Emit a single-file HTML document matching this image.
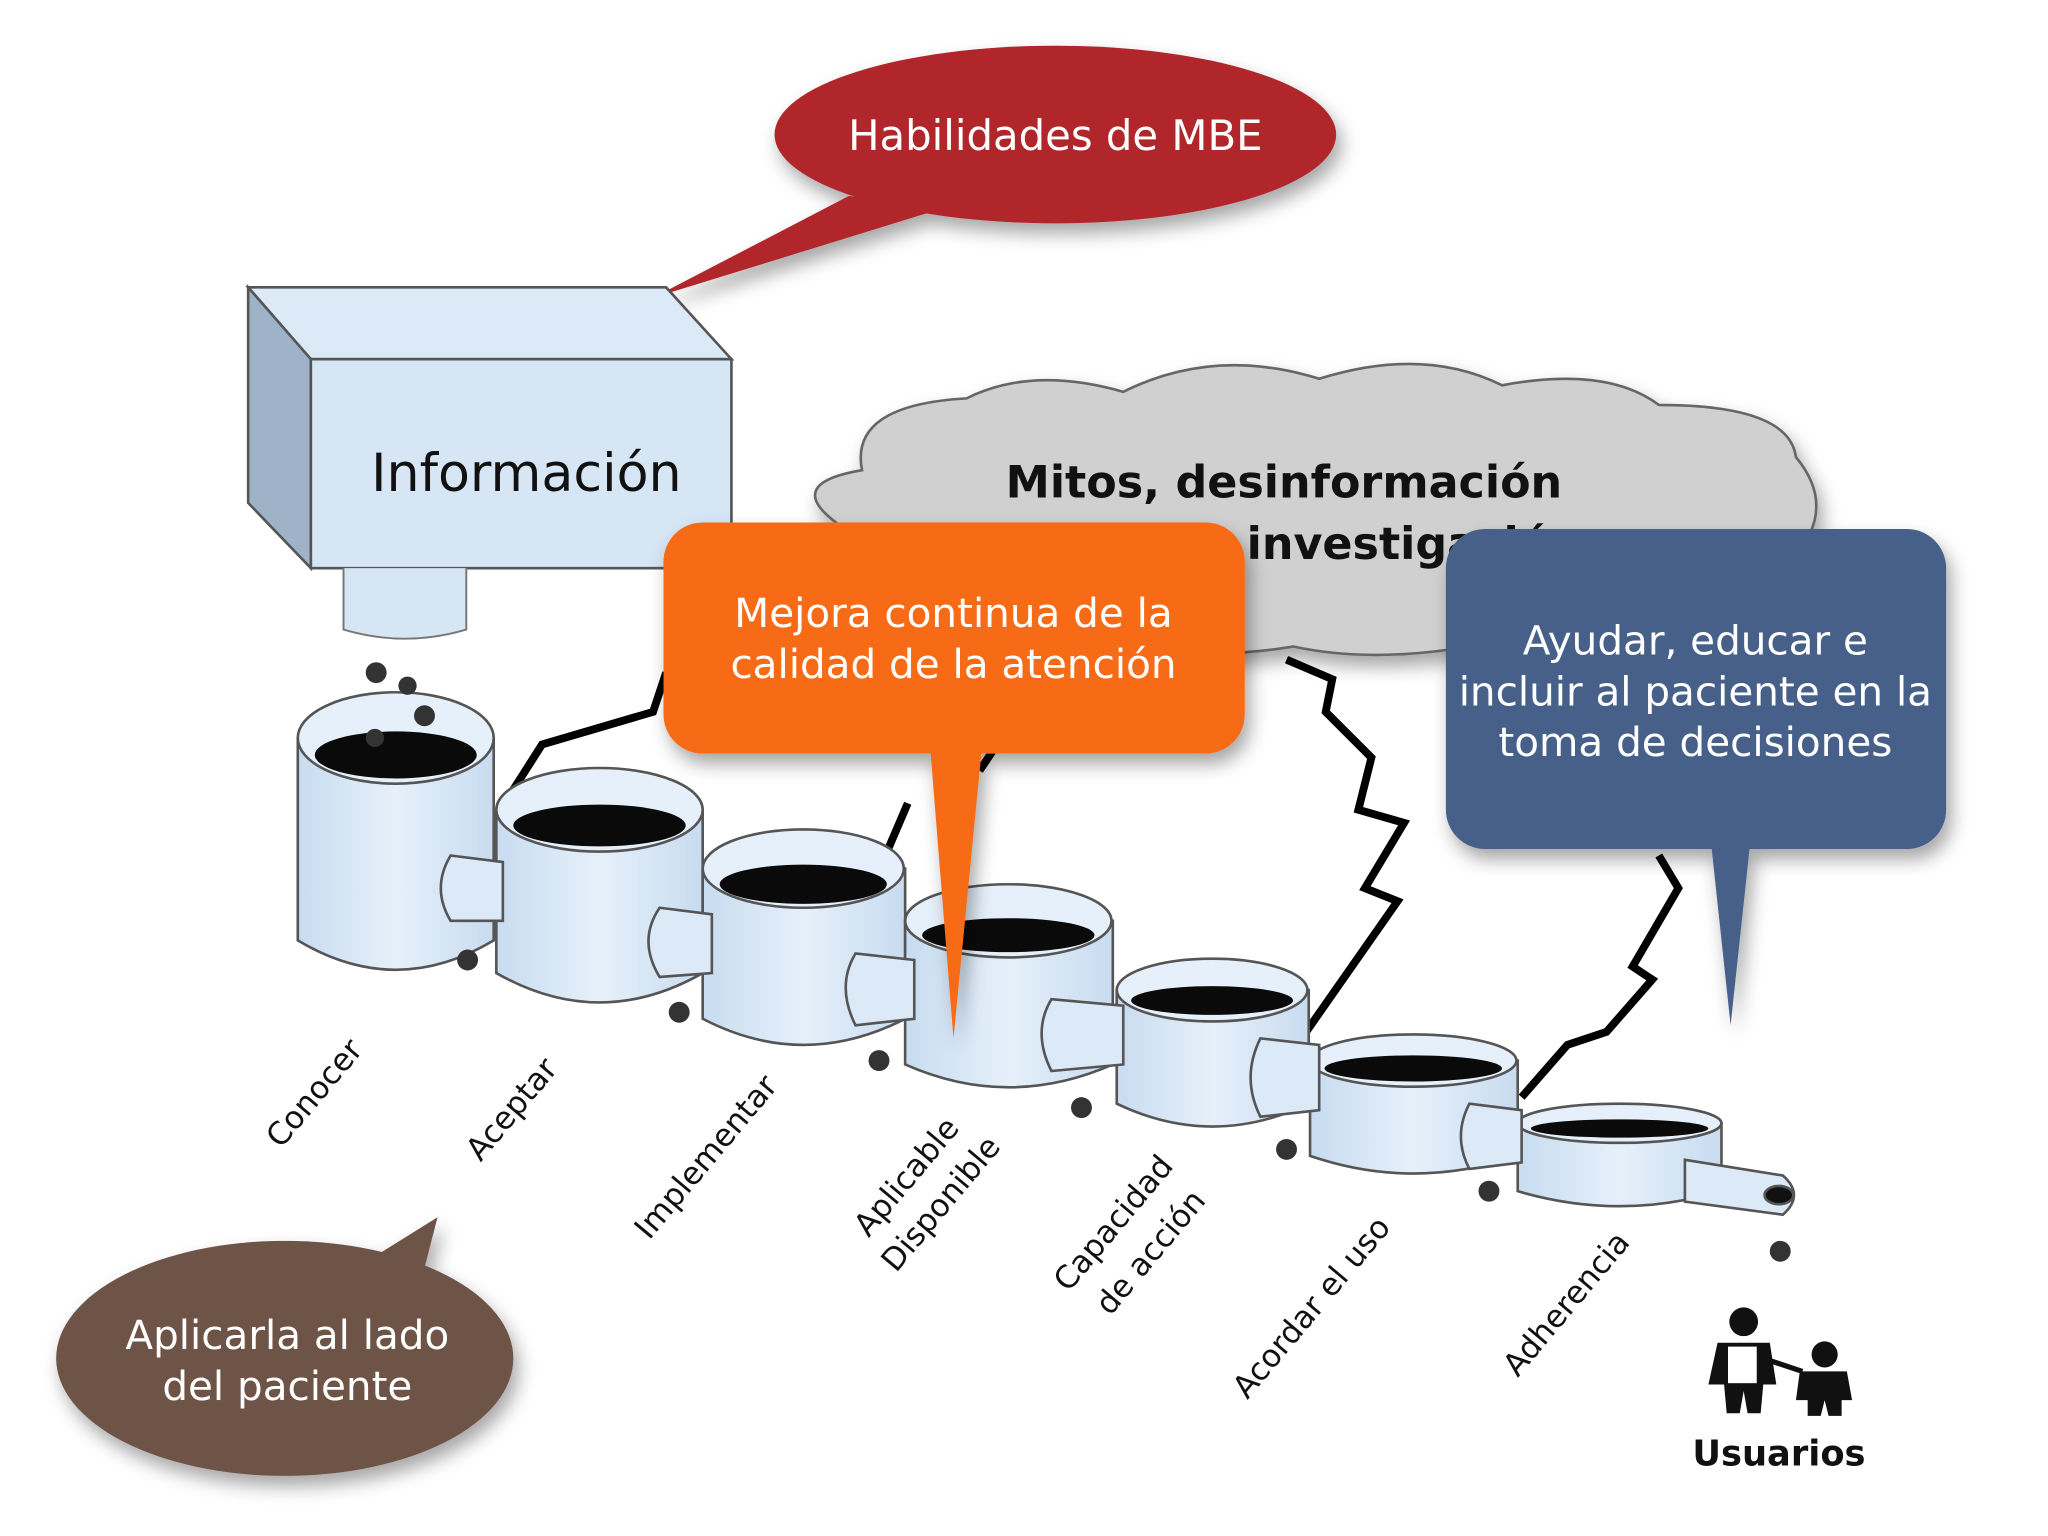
<!DOCTYPE html>
<html><head><meta charset="utf-8"><style>
html,body{margin:0;padding:0;background:#fff;}
svg{display:block}
.t{font-family:"DejaVu Sans","Liberation Sans",sans-serif;}
</style></head><body>
<svg width="2048" height="1536" viewBox="0 0 1568 1176" xmlns="http://www.w3.org/2000/svg">
<defs>
<filter id="sh" x="-20%" y="-20%" width="140%" height="150%"><feDropShadow dx="4" dy="8" stdDeviation="7" flood-opacity="0.35"/></filter>
<linearGradient id="cup" x1="0" x2="1"><stop offset="0" stop-color="#c8dcf0"/><stop offset="0.5" stop-color="#e6f0fa"/><stop offset="1" stop-color="#c8dcf0"/></linearGradient>
</defs>
<rect width="1568" height="1176" fill="#fff"/>

<g filter="url(#sh)">
<path d="M650 150 L500 228 L720 160 Z" fill="#b0252b"/>
<ellipse cx="808" cy="103" rx="215" ry="68" fill="#b0252b"/>
</g>
<text x="808" y="115" text-anchor="middle" class="t" font-size="32" fill="#fff">Habilidades de MBE</text>

<polygon points="190,220 510,220 560,275 238,275" fill="#dce9f6" stroke="#555" stroke-width="2"/>
<polygon points="190,220 238,275 238,435 190,385" fill="#9fb3c8" stroke="#555" stroke-width="2"/>
<rect x="238" y="275" width="322" height="160" fill="#d6e6f5" stroke="#555" stroke-width="2"/>
<path d="M263 435 L263 482 Q310 496 357 482 L357 435" fill="#d6e6f5" stroke="#777" stroke-width="1.5"/>
<text x="403" y="376" text-anchor="middle" class="t" font-size="40" fill="#111">Información</text>

<g filter="url(#sh)">
<path d="M640 400 Q600 370 660 360 Q650 310 740 305 Q790 280 860 300 Q930 265 1010 290 Q1090 265 1150 295 Q1230 280 1270 310 Q1370 310 1375 350 Q1400 380 1385 410 Q1380 460 1300 470 Q1250 510 1150 490 Q1060 510 990 495 Q900 510 830 480 Q740 495 690 460 Q610 450 640 400 Z" fill="#d0d0d0" stroke="#666" stroke-width="2"/>
</g>
<text x="983" y="381" text-anchor="middle" class="t" font-size="34" font-weight="bold" fill="#111">Mitos, desinformación</text>
<text x="1030" y="428" text-anchor="middle" class="t" font-size="34" font-weight="bold" fill="#111">mala investigación</text>

<g fill="none" stroke="#000" stroke-width="6">
<polyline points="350,645 380,625 415,570 500,545 510,515"/>
<polyline points="985,505 1020,520 1015,545 1050,580 1040,620 1075,630 1045,680 1070,690 1000,790"/>
<polyline points="1270,655 1285,680 1250,740 1265,750 1230,790 1200,800 1165,840"/>
<polyline points="695,615 680,650 690,700"/>
<polyline points="760,575 750,590"/>
</g>

<g stroke="#555" stroke-width="2">
<path d="M228 565 L228 720 Q303 765 378 720 L378 565Z" fill="url(#cup)"/>
<ellipse cx="303" cy="565" rx="75" ry="35" fill="#e6f0fa"/>
<ellipse cx="303" cy="578" rx="62" ry="18" fill="#0a0a0a" stroke="none"/>

<path d="M380 620 L380 745 Q459 790 538 745 L538 620Z" fill="url(#cup)"/>
<ellipse cx="459" cy="620" rx="79" ry="32" fill="#e6f0fa"/>
<ellipse cx="459" cy="632" rx="66" ry="16" fill="#0a0a0a" stroke="none"/>

<path d="M538 665 L538 780 Q615 820 693 780 L693 665Z" fill="url(#cup)"/>
<ellipse cx="615" cy="665" rx="77" ry="30" fill="#e6f0fa"/>
<ellipse cx="615" cy="677" rx="64" ry="15" fill="#0a0a0a" stroke="none"/>

<path d="M693 705 L693 815 Q772 850 852 815 L852 705Z" fill="url(#cup)"/>
<ellipse cx="772" cy="705" rx="79" ry="28" fill="#e6f0fa"/>
<ellipse cx="772" cy="716" rx="66" ry="13" fill="#0a0a0a" stroke="none"/>

<path d="M855 758 L855 845 Q928 880 1002 845 L1002 758Z" fill="url(#cup)"/>
<ellipse cx="928" cy="758" rx="73" ry="24" fill="#e6f0fa"/>
<ellipse cx="928" cy="766" rx="62" ry="11" fill="#0a0a0a" stroke="none"/>

<path d="M1003 812 L1003 885 Q1082 912 1162 885 L1162 812Z" fill="url(#cup)"/>
<ellipse cx="1082" cy="812" rx="79" ry="20" fill="#e6f0fa"/>
<ellipse cx="1082" cy="818" rx="68" ry="10" fill="#0a0a0a" stroke="none"/>

<path d="M1162 860 L1162 912 Q1240 935 1318 912 L1318 860Z" fill="url(#cup)"/>
<ellipse cx="1240" cy="860" rx="78" ry="15" fill="#e6f0fa"/>
<ellipse cx="1240" cy="864" rx="68" ry="7" fill="#0a0a0a" stroke="none"/>

<!-- pipes in front -->
<path d="M345 655 L385 660 L385 705 L345 705 Q330 680 345 655Z" fill="#dce9f6"/>
<path d="M505 695 L545 700 L545 745 L505 748 Q488 720 505 695Z" fill="#dce9f6"/>
<path d="M655 730 L700 735 L700 780 L655 785 Q640 755 655 730Z" fill="#dce9f6"/>
<path d="M805 765 L860 770 L860 815 L805 820 Q790 790 805 765Z" fill="#dce9f6"/>
<path d="M965 795 L1010 800 L1010 850 L965 855 Q950 825 965 795Z" fill="#dce9f6"/>
<path d="M1125 845 L1165 850 L1165 890 L1125 895 Q1112 870 1125 845Z" fill="#dce9f6"/>
<path d="M1290 888 L1365 900 Q1382 915 1365 930 L1290 920Z" fill="#dce9f6"/>
<ellipse cx="1362" cy="915" rx="11" ry="7" fill="#111"/>
</g>

<g fill="#333">
<circle cx="288" cy="515" r="8"/><circle cx="312" cy="525" r="7"/><circle cx="325" cy="548" r="8"/><circle cx="287" cy="565" r="7"/>
<circle cx="358" cy="735" r="8"/><circle cx="520" cy="775" r="8"/><circle cx="673" cy="812" r="8"/><circle cx="828" cy="848" r="8"/><circle cx="985" cy="880" r="8"/><circle cx="1140" cy="912" r="8"/><circle cx="1363" cy="958" r="8"/>
</g>

<g filter="url(#sh)">
<path d="M712 570 L730 795 L752 570 Z" fill="#f76a14"/>
<rect x="508" y="400" width="445" height="177" rx="30" fill="#f76a14"/>
</g>
<g class="t" font-size="31" fill="#fff" text-anchor="middle">
<text x="730" y="480">Mejora continua de la</text>
<text x="730" y="519">calidad de la atención</text>
</g>

<g filter="url(#sh)">
<path d="M1310 645 L1325 785 L1340 645 Z" fill="#46608a"/>
<rect x="1107" y="405" width="383" height="245" rx="30" fill="#46608a"/>
</g>
<g class="t" font-size="31" fill="#fff" text-anchor="middle">
<text x="1298" y="501">Ayudar, educar e</text>
<text x="1298" y="540">incluir al paciente en la</text>
<text x="1298" y="579">toma de decisiones</text>
</g>

<g filter="url(#sh)">
<path d="M290 960 L335 932 L320 990 Z" fill="#6e5247"/>
<ellipse cx="218" cy="1040" rx="175" ry="90" fill="#6e5247"/>
</g>
<g class="t" font-size="31" fill="#fff" text-anchor="middle">
<text x="220" y="1033">Aplicarla al lado</text>
<text x="220" y="1072">del paciente</text>
</g>

<g class="t" font-size="24" fill="#111">
<text transform="translate(215,880) rotate(-50)">Conocer</text>
<text transform="translate(368,890) rotate(-50)">Aceptar</text>
<text transform="translate(497,950) rotate(-50)">Implementar</text>
<text transform="translate(665,948) rotate(-50)">Aplicable</text>
<text transform="translate(686,975) rotate(-50)">Disponible</text>
<text transform="translate(818,990) rotate(-50)">Capacidad</text>
<text transform="translate(850,1008) rotate(-50)">de acción</text>
<text transform="translate(955,1072) rotate(-50)">Acordar el uso</text>
<text transform="translate(1162,1055) rotate(-50)">Adherencia</text>
</g>

<g fill="#111">
<circle cx="1335" cy="1012" r="11"/>
<path d="M1315 1028 L1355 1028 L1360 1060 L1350 1060 L1348 1082 L1338 1082 L1335 1065 L1332 1082 L1322 1082 L1320 1060 L1308 1060 Z"/>
<rect x="1322" y="1030" width="24" height="30" fill="#fff" stroke="#111" stroke-width="2"/>
<circle cx="1397" cy="1037" r="10"/>
<path d="M1378 1050 L1414 1050 L1418 1072 L1410 1072 L1410 1084 L1400 1084 L1397 1072 L1394 1084 L1384 1084 L1384 1072 L1375 1072 Z"/>
<line x1="1350" y1="1040" x2="1380" y2="1050" stroke="#111" stroke-width="4"/>
</g>
<text x="1362" y="1122" text-anchor="middle" class="t" font-size="27" font-weight="bold" fill="#111">Usuarios</text>
</svg>
</body></html>
